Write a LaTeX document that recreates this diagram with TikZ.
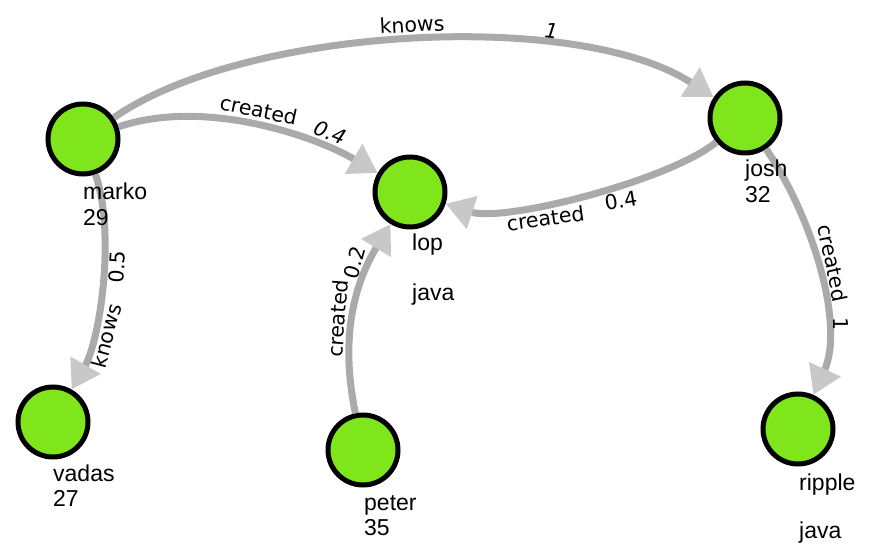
\documentclass[tikz,border=0pt]{standalone}
\usepackage{fontspec}
\setmainfont{Liberation Sans}
\newfontfamily\edgefont{DejaVu Sans}
\usetikzlibrary{positioning,arrows.meta}
\definecolor{vgreen}{HTML}{7EE61A}
\definecolor{egray}{HTML}{AAAAAA}
\definecolor{tipgray}{HTML}{C8C8C8}

\begin{document}
\begin{tikzpicture}[x=1pt, y=-1pt, >={Triangle[length=28pt, width=33pt, color=tipgray]},
        vertex/.style={circle, draw=black, line width=5pt, fill=vgreen, minimum size=70pt, inner sep=0pt},
        vlabel/.style={anchor=base west, align=left, inner sep=0pt, font=\fontsize{23}{25}\selectfont},
        edge/.style={->, draw=egray, line width=7pt},
        elabel/.style={font=\edgefont\fontsize{20.5}{24}\selectfont, inner sep=4pt}]
        \useasboundingbox (0,0) rectangle (873,559);

        \node[vertex] (marko) at (83,139) {};
        \node[vertex] (lop) at (410,192) {};
        \node[vertex] (josh) at (745,118) {};
        \node[vertex] (vadas) at (53,422) {};
        \node[vertex] (peter) at (363,450) {};
        \node[vertex] (ripple) at (798,429) {};

        \draw[edge] (marko) .. controls (246,26) and (579,9) .. (josh)
            node[elabel, pos=0.5, anchor=south, rotate=3] {knows}
            node[elabel, pos=0.7, anchor=south, rotate=-7] {\itshape 1};
        \draw[edge] (marko) .. controls (203,98) and (313,135) .. (lop)
            node[elabel, pos=0.5, anchor=south, rotate=-12] {created}
            node[elabel, pos=0.76, anchor=south, rotate=-22] {\itshape 0.4};
        \draw[edge] (josh) .. controls (671,180) and (504,223) .. (lop)
            node[elabel, pos=0.63, anchor=north, rotate=8] {created}
            node[elabel, pos=0.4, anchor=north, rotate=10] {0.4};
        \draw[edge] (marko) .. controls (116,233) and (100,340) .. (vadas)
            node[elabel, pos=0.7, anchor=north, rotate=75, inner sep=2pt] {knows}
            node[elabel, pos=0.42, anchor=north, rotate=86, inner sep=2pt] {0.5};
        \draw[edge] (peter) .. controls (339,334) and (356,281) .. (lop)
            node[elabel, pos=0.45, anchor=south, rotate=86, inner sep=3pt] {created}
            node[elabel, pos=0.75, anchor=south, rotate=74, inner sep=3pt] {0.2};
        \draw[edge] (josh) .. controls (813,218) and (845,325) .. (ripple)
            node[elabel, pos=0.48, anchor=south, rotate=-78] {created}
            node[elabel, pos=0.7, anchor=south, rotate=-90] {1};

        \node[vlabel] (markotxt) at ([yshift=-86pt]marko.center) {marko\\29};
        \node[vlabel] (loptxt) at ([xshift=2pt, yshift=-108pt]lop.center) {lop\\[25pt]java};
        \node[vlabel] (joshtxt) at ([yshift=-84pt]josh.center) {josh\\32};
        \node[vlabel] (vadastxt) at ([yshift=-84pt]vadas.center) {vadas\\27};
        \node[vlabel] (petertxt) at ([xshift=1pt, yshift=-85pt]peter.center) {peter\\35};
        \node[vlabel] (rippletxt) at ([xshift=1pt, yshift=-109pt]ripple.center) {ripple\\[23pt]java};
    \end{tikzpicture}
\end{document}
